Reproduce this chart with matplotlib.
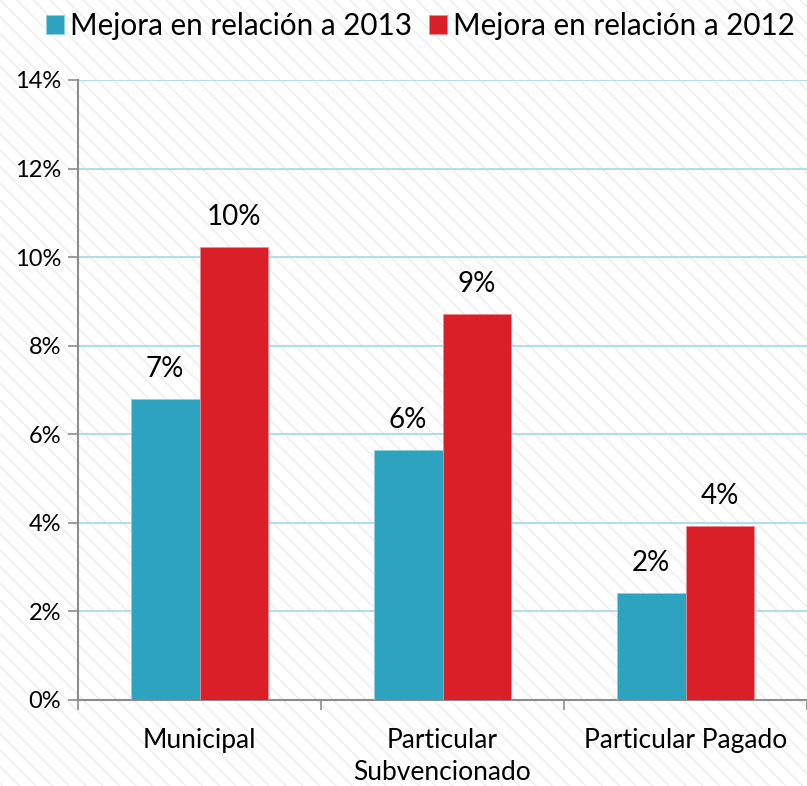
import matplotlib
matplotlib.use("Agg")
import matplotlib.pyplot as plt
import numpy as np
from matplotlib.patches import Rectangle

categories = ["Municipal", "Particular\nSubvencionado", "Particular Pagado"]
series_names = ["Mejora en relación a 2013", "Mejora en relación a 2012"]
mejora_2013 = [6.8, 5.65, 2.42]
mejora_2012 = [10.23, 8.72, 3.93]
y_ticks = [0, 2, 4, 6, 8, 10, 12, 14]

colors = ["#2ea3c0", "#da1f28"]

plt.rcParams["font.family"] = ["Lato", "DejaVu Sans"]
plt.rcParams["hatch.color"] = "#ececec"
plt.rcParams["hatch.linewidth"] = 1.0

fig = plt.figure(figsize=(8.07, 7.86), dpi=100)
# diagonal hatched background
bg = Rectangle((0, 0), 1, 1, transform=fig.transFigure, facecolor="white",
               edgecolor="#ececec", hatch="\\\\", linewidth=0, zorder=-10)
fig.patches.append(bg)

ax = fig.add_axes([78 / 807, 1 - 700 / 786, 1 - 78 / 807, 620 / 786])
ax.set_facecolor("none")

x = np.arange(len(categories))
w = 0.283
b1 = ax.bar(x - w / 2, mejora_2013, w, color=colors[0], edgecolor="#8fd0e0",
            linewidth=0.6, label=series_names[0], zorder=3)
b2 = ax.bar(x + w / 2, mejora_2012, w, color=colors[1], edgecolor="#f08a8f",
            linewidth=0.6, label=series_names[1], zorder=3)

for bars in (b1, b2):
    for r in bars:
        v = r.get_height()
        ax.annotate(f"{v:.0f}%", (r.get_x() + r.get_width() / 2, v),
                    xytext=(0, 12), textcoords="offset points",
                    ha="center", va="bottom", fontsize=20)

ax.set_ylim(0, 14)
ax.set_xlim(-0.5, 2.488)
ax.set_yticks(y_ticks)
ax.set_yticklabels([f"{t}%" for t in y_ticks], fontsize=17)
ax.yaxis.grid(True, color="#b3dde8", linewidth=1.5, zorder=0)
ax.set_axisbelow(True)

ax.set_xticks(x)
ax.set_xticklabels(categories, fontsize=19, linespacing=1.35)
ax.set_xticks([-0.5, 0.5, 1.5, 2.5], minor=True)
ax.tick_params(axis="x", which="major", length=0, pad=20)
ax.tick_params(axis="x", which="minor", length=7, color="#8c8c8c", width=1.2)
ax.tick_params(axis="y", length=7, color="#8c8c8c", width=1.2, pad=5)

for s in ["top", "right"]:
    ax.spines[s].set_visible(False)
for s in ["left", "bottom"]:
    ax.spines[s].set_color("#8c8c8c")
    ax.spines[s].set_linewidth(1.5)

fig.legend(handles=[b1, b2], loc="center", bbox_to_anchor=(0.521, 1 - 26 / 786),
           ncol=2, frameon=False, fontsize=21.3, handlelength=0.6,
           handleheight=0.6, handletextpad=0.2, columnspacing=0.6)

fig.savefig("out.png", dpi=100)
